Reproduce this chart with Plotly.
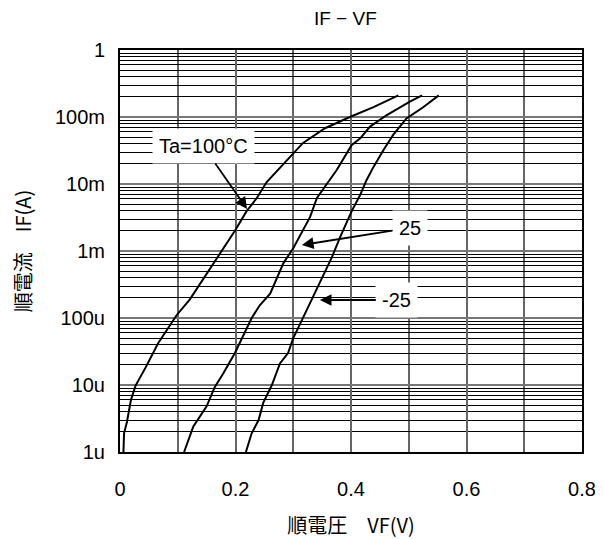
import math
import plotly.graph_objects as go

# IF-VF curves (V in volts, I in amperes)
vf_100 = [0.006, 0.007, 0.012, 0.019, 0.027, 0.044, 0.066, 0.098, 0.121, 0.164,
          0.199, 0.219, 0.237, 0.254, 0.286, 0.317, 0.355, 0.398, 0.439, 0.482]
if_100 = [1.0e-6, 1.9e-6, 2.8e-6, 6.0e-6, 9.8e-6, 1.8e-5, 4.2e-5, 1.1e-4, 1.9e-4, 6.9e-4,
          2.0e-3, 3.9e-3, 6.2e-3, 1.07e-2, 2.1e-2, 4.1e-2, 6.8e-2, 0.10, 0.14, 0.21]

vf_25 = [0.111, 0.127, 0.150, 0.164, 0.179, 0.199, 0.228, 0.242, 0.260, 0.283, 0.300,
         0.329, 0.341, 0.364, 0.375, 0.401, 0.416, 0.433, 0.462, 0.502, 0.523]
if_25 = [1.0e-6, 2.4e-6, 4.8e-6, 9.3e-6, 1.5e-5, 3.0e-5, 1.0e-4, 1.55e-4, 2.3e-4, 6.6e-4, 1.1e-3,
         3.2e-3, 6.2e-3, 1.15e-2, 1.6e-2, 3.8e-2, 4.8e-2, 7.2e-2, 0.107, 0.17, 0.21]

vf_m25 = [0.218, 0.228, 0.240, 0.248, 0.263, 0.277, 0.291, 0.300, 0.315, 0.329, 0.352,
          0.367, 0.381, 0.401, 0.416, 0.427, 0.439, 0.456, 0.473, 0.496, 0.525, 0.552]
if_m25 = [1.0e-6, 1.9e-6, 3.0e-6, 5.4e-6, 1.0e-5, 2.1e-5, 3.0e-5, 5.0e-5, 9.3e-5, 1.66e-4, 4.2e-4,
          8.1e-4, 1.6e-3, 3.9e-3, 6.9e-3, 1.15e-2, 1.8e-2, 3.2e-2, 5.4e-2, 9.5e-2, 0.14, 0.21]

y_tickvals = [1e-6, 1e-5, 1e-4, 1e-3, 1e-2, 1e-1, 1]
y_ticktext = ["1u", "10u", "100u", "1m", "10m", "100m", "1"]
x_tickvals = [0, 0.2, 0.4, 0.6, 0.8]
x_ticktext = ["0", "0.2", "0.4", "0.6", "0.8"]

FONT = "Liberation Sans, Arial, sans-serif"
JP = "Noto Sans CJK JP"

fig = go.Figure()
for vf, i_f in [(vf_100, if_100), (vf_25, if_25), (vf_m25, if_m25)]:
    fig.add_trace(go.Scatter(x=vf, y=i_f, mode="lines",
                             line={"color": "black", "width": 2}, showlegend=False))

# label, arrow tip (V, IF), pixel offset of label
labels = [("Ta=100°C", 0.22, 10 ** -2.373, -44, -63),
          ("25", 0.315, 10 ** -2.91, 108, -17),
          ("-25", 0.346, 10 ** -3.731, 77, 0)]
for txt, xv, yv, ax, ay in labels:
    fig.add_annotation(x=xv, y=math.log10(yv), text=txt,
                       ax=ax, ay=ay, showarrow=True, arrowhead=2, arrowsize=1.3,
                       arrowwidth=1.8, arrowcolor="black", bgcolor="white",
                       borderpad=6, font={"family": FONT, "size": 20, "color": "black"})

# page body has an 8px margin, so the figure is made 8px smaller
fig.update_layout(
    width=595, height=531,
    margin={"l": 112, "r": 21, "t": 42, "b": 87},
    paper_bgcolor="white", plot_bgcolor="white",
    font={"family": FONT, "size": 20, "color": "black"},
    title={"text": "IF − VF", "x": 0.567, "xanchor": "center",
           "y": 1 - 10 / 531, "yanchor": "middle", "yref": "container",
           "font": {"family": FONT, "size": 19, "color": "black"}},
)
fig.update_xaxes(
    range=[0, 0.8], tickvals=x_tickvals, ticktext=x_ticktext,
    showgrid=True, gridcolor="#666666", gridwidth=1.5,
    minor={"dtick": 0.1, "showgrid": True, "gridcolor": "#666666", "gridwidth": 1.5},
    showline=True, linecolor="black", linewidth=2, mirror=True,
    ticks="", ticklabelstandoff=18, zeroline=False, automargin=False,
    title={"text": "順電圧　VF(V)", "standoff": 20, "font": {"family": JP, "size": 20}},
)
fig.update_yaxes(
    type="log", range=[-6, 0], tickvals=y_tickvals, ticktext=y_ticktext,
    showgrid=True, gridcolor="#777777", gridwidth=1.5,
    minor={"dtick": "D1", "showgrid": True, "gridcolor": "black", "gridwidth": 1},
    showline=True, linecolor="black", linewidth=2, mirror=True,
    ticks="", ticklabelstandoff=9, automargin=False,
    title={"text": "順電流　IF(A)", "standoff": 40, "font": {"family": JP, "size": 20}},
)

fig.write_html("out.html")
